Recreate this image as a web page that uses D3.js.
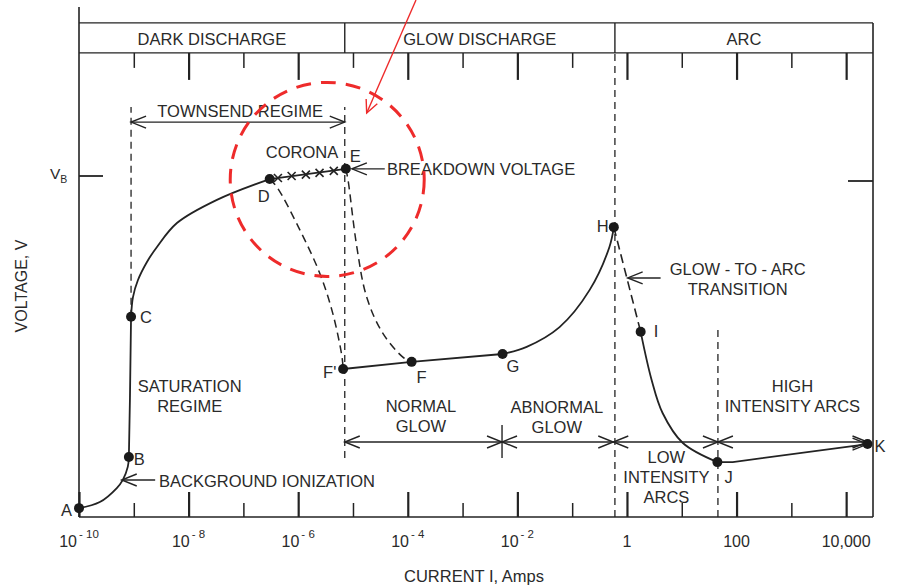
<!DOCTYPE html>
<html>
<head>
<meta charset="utf-8">
<script src="https://cdn.jsdelivr.net/npm/d3@7"></script>
<style>
  html, body { margin: 0; padding: 0; background: #fff; }
  svg text { font-family: "Liberation Sans", Arial, sans-serif; fill: #2a2a2a; }
</style>
</head>
<body>
<svg id="chart" width="902" height="586"></svg>
<script>
// ---------------- DATA (current as log10 I in amps, voltage relative to V_B) ----------------
const regionNames = ["DARK DISCHARGE", "GLOW DISCHARGE", "ARC"];
const regionBounds = [-10, -5.15, -0.22, 4.49];

const majorTickExp = [-10, -8, -6, -4, -2, 0, 2, 4];
const minorTickExp = [-9, -7, -5, -3, -1, 1, 3];
const tickBase = ["10", "10", "10", "10", "10", "1", "100", "10,000"];
const tickSup = ["- 10", "- 8", "- 6", "- 4", "- 2", "", "", ""];

const pointLabels = ["A", "B", "C", "D", "E", "F'", "F", "G", "H", "I", "J", "K"];
const pointExp = [-10, -9.09, -9.05, -6.52, -5.13, -5.18, -3.93, -2.27, -0.24, 0.25, 1.65, 4.39];
const pointVolt = [0.026, 0.176, 0.587, 0.991, 1.021, 0.434, 0.455, 0.478, 0.850, 0.543, 0.161, 0.214];

// solid characteristic segments
const curveAB = [[-10, 0.026], [-9.62, 0.044], [-9.31, 0.085], [-9.20, 0.109], [-9.11, 0.147], [-9.09, 0.176]];
const curveBC = [[-9.09, 0.176], [-9.07, 0.35], [-9.05, 0.587]];
const curveCD = [[-9.05, 0.587], [-9.015, 0.645], [-8.924, 0.695], [-8.76, 0.748], [-8.577, 0.792], [-8.213, 0.862], [-7.483, 0.930], [-6.52, 0.991]];
const curveDE = [[-6.52, 0.991], [-5.13, 1.021]];
const curveFG = [[-5.18, 0.434], [-3.93, 0.455], [-2.27, 0.478]];
const curveGH = [[-2.27, 0.478], [-1.83, 0.499], [-1.23, 0.557], [-0.68, 0.666], [-0.32, 0.792], [-0.24, 0.850]];
const curveIJ = [[0.25, 0.543], [0.45, 0.402], [0.65, 0.305], [1.02, 0.217], [1.65, 0.161]];
const curveJK = [[1.65, 0.161], [1.93, 0.161], [4.39, 0.214]];
// dashed transitions
const curveDF1 = [[-6.52, 0.991], [-6.39, 0.968], [-5.97, 0.842], [-5.61, 0.716], [-5.37, 0.598], [-5.20, 0.469], [-5.18, 0.434]];
const curveEF = [[-5.13, 1.021], [-5.09, 0.988], [-4.93, 0.792], [-4.75, 0.645], [-4.46, 0.540], [-4.09, 0.469], [-3.93, 0.455]];
const curveHI = [[-0.24, 0.850], [0.25, 0.543]];

// corona crosses between D and E
const crossExp = [-6.37, -6.12, -5.86, -5.61, -5.35];
const crossVolt = [0.994, 1.000, 1.004, 1.009, 1.015];

// vertical dashed guides: [exp, vFrom, vTo]
const guideExp = [-9.05, -5.15, -0.22, 1.66];
const guideFrom = [0.587, 0.173, 0, 0];
const guideTo = [1.202, 1.202, 1.361, 0.563];

// regime span arrows
const townsendSpan = [-9.05, -5.15];
const townsendVolt = 1.158;
const glowSpanBounds = [-5.15, -2.28, -0.25, 1.66, 4.39];
const glowSpanVolt = 0.220;

// text annotations: lines, exp, volt of first baseline, anchor
const annoLines = [["TOWNSEND REGIME"], ["CORONA"], ["SATURATION", "REGIME"], ["BACKGROUND IONIZATION"],
  ["BREAKDOWN VOLTAGE"], ["NORMAL", "GLOW"], ["ABNORMAL", "GLOW"], ["LOW", "INTENSITY", "ARCS"],
  ["HIGH", "INTENSITY ARCS"], ["GLOW - TO - ARC", "TRANSITION"]];
const annoExp = [-7.06, -5.93, -7.98, -8.54, -4.38, -3.76, -1.28, 0.72, 3.02, 2.02];
const annoVolt = [1.173, 1.053, 0.367, 0.088, 1.003, 0.308, 0.305, 0.158, 0.367, 0.710];
const annoAnchor = ["middle", "middle", "middle", "start", "start", "middle", "middle", "middle", "middle", "middle"];

// pointer arrows: tip (exp, volt) and tail (exp, volt)
const pointerTip = [[-9.22, 0.1085], [-5.02, 1.021], [0.013, 0.701]];
const pointerTail = [[-8.61, 0.1085], [-4.42, 1.021], [0.614, 0.701]];

// red annotation (circle centre and arrow)
const redCircleCentre = [-5.47, 0.990];
const redArrowTail = [-3.85, 1.516];
const redArrowTip = [-4.75, 1.185];

// ---------------- STYLE ----------------
const INK = "#232323";
const RED = "#ee2b2b";
const FS = 16.5;
const labelOffset = [[-18, 8], [5, 8], [9, 6], [-12, 23], [4, -7], [-20, 9], [5, 21], [4, 18], [-17, 5], [13, 5], [7, 21], [7, 8]];

// ---------------- SCALES ----------------
const svg = d3.select("#chart");
const x = d3.scaleLog().domain([1e-10, Math.pow(10, 4.49)]).range([79, 873]);
const y = d3.scaleLinear().domain([0, 1]).range([517, 176]);
const X = e => x(Math.pow(10, e));

const smooth = d3.line().x(d => X(d[0])).y(d => y(d[1])).curve(d3.curveCatmullRom.alpha(0.5));
const straight = d3.line().x(d => X(d[0])).y(d => y(d[1]));

const yTop = y(1.449);   // header top
const yHead = y(1.361);  // header bottom
const yBase = y(0);

// ---------------- FRAME ----------------
const frame = svg.append("g").attr("stroke", INK).attr("fill", "none");
frame.append("line").attr("x1", X(-10)).attr("x2", X(-10)).attr("y1", 7).attr("y2", yBase).attr("stroke-width", 1.6);
frame.append("line").attr("x1", x.range()[1]).attr("x2", x.range()[1]).attr("y1", yTop).attr("y2", yBase).attr("stroke-width", 1.6);
frame.append("line").attr("x1", X(-10)).attr("x2", x.range()[1]).attr("y1", yTop).attr("y2", yTop).attr("stroke-width", 1.4);
frame.append("line").attr("x1", X(-10)).attr("x2", x.range()[1]).attr("y1", yHead).attr("y2", yHead).attr("stroke-width", 1.4);
regionBounds.slice(1, -1).forEach(b => {
  frame.append("line").attr("x1", X(b)).attr("x2", X(b)).attr("y1", yTop).attr("y2", yHead).attr("stroke-width", 1.4);
});
regionNames.forEach((n, i) => {
  svg.append("text").attr("x", (X(regionBounds[i]) + X(regionBounds[i + 1])) / 2).attr("y", yHead - 8)
    .attr("text-anchor", "middle").attr("font-size", FS).text(n);
});

// V_B ticks
frame.append("line").attr("x1", X(-10)).attr("x2", X(-10) + 24).attr("y1", y(1)).attr("y2", y(1)).attr("stroke-width", 1.8);
frame.append("line").attr("x1", x.range()[1] - 25).attr("x2", x.range()[1]).attr("y1", y(1) + 5).attr("y2", y(1) + 5).attr("stroke-width", 1.8);
const vb = svg.append("text").attr("x", 50).attr("y", y(1) + 3).attr("font-size", 15.5);
vb.append("tspan").text("V");
vb.append("tspan").attr("font-size", 10.5).attr("dy", 4).text("B");

// ---------------- AXES (ticks via d3.axis) ----------------
function styleAxis(g, w) {
  g.select(".domain").remove();
  g.selectAll(".tick line").attr("stroke", INK).attr("stroke-width", w);
  g.selectAll(".tick text").remove();
}
const bottomMajor = svg.append("g").attr("transform", `translate(0,${yBase})`)
  .call(d3.axisBottom(x).tickValues(majorTickExp.map(e => Math.pow(10, e))).tickSize(-25).tickFormat(""));
styleAxis(bottomMajor, 2.2);
const bottomMinor = svg.append("g").attr("transform", `translate(0,${yBase})`)
  .call(d3.axisBottom(x).tickValues(minorTickExp.map(e => Math.pow(10, e))).tickSize(-14).tickFormat(""));
styleAxis(bottomMinor, 1.5);
const topMajor = svg.append("g").attr("transform", `translate(0,${yHead})`)
  .call(d3.axisBottom(x).tickValues(majorTickExp.slice(1).map(e => Math.pow(10, e))).tickSize(27).tickFormat(""));
styleAxis(topMajor, 2.2);
const topMinor = svg.append("g").attr("transform", `translate(0,${yHead})`)
  .call(d3.axisBottom(x).tickValues(minorTickExp.map(e => Math.pow(10, e))).tickSize(15).tickFormat(""));
styleAxis(topMinor, 1.5);
frame.append("line").attr("x1", X(-10)).attr("x2", x.range()[1]).attr("y1", yBase).attr("y2", yBase).attr("stroke-width", 1.6);

majorTickExp.forEach((e, i) => {
  const t = svg.append("text").attr("x", X(e)).attr("y", 547)
    .attr("text-anchor", "middle").attr("font-size", 16);
  t.append("tspan").text(tickBase[i]);
  if (tickSup[i]) t.append("tspan").attr("font-size", 11.5).attr("dy", -9).attr("dx", 2).text(tickSup[i]);
});

svg.append("text").attr("x", 474).attr("y", 582).attr("text-anchor", "middle").attr("font-size", FS).text("CURRENT I, Amps");
svg.append("text").attr("transform", "translate(27,286) rotate(-90)").attr("text-anchor", "middle")
  .attr("font-size", 16).text("VOLTAGE, V");

// ---------------- GUIDES ----------------
guideExp.forEach((e, i) => {
  svg.append("line").attr("x1", X(e)).attr("x2", X(e)).attr("y1", y(guideFrom[i])).attr("y2", y(guideTo[i]))
    .attr("stroke", INK).attr("stroke-width", 1.3).attr("stroke-dasharray", "7,5");
});

// ---------------- ARROWS ----------------
function head(g, tx, ty, dir) {
  g.append("path").attr("d", `M${tx - dir * 15},${ty - 6}L${tx},${ty}L${tx - dir * 15},${ty + 6}`)
    .attr("fill", "none").attr("stroke", INK).attr("stroke-width", 1.4);
}
function doubleArrow(e0, e1, v) {
  const g = svg.append("g");
  g.append("line").attr("x1", X(e0)).attr("x2", X(e1)).attr("y1", y(v)).attr("y2", y(v))
    .attr("stroke", INK).attr("stroke-width", 1.4);
  head(g, X(e0), y(v), -1);
  head(g, X(e1), y(v), 1);
}
doubleArrow(townsendSpan[0], townsendSpan[1], townsendVolt);
for (let i = 0; i < glowSpanBounds.length - 1; i++) doubleArrow(glowSpanBounds[i], glowSpanBounds[i + 1], glowSpanVolt);
svg.append("line").attr("x1", X(glowSpanBounds[1])).attr("x2", X(glowSpanBounds[1]))
  .attr("y1", y(glowSpanVolt) - 17).attr("y2", y(glowSpanVolt) + 16).attr("stroke", INK).attr("stroke-width", 1.4);

pointerTip.forEach((tip, i) => {
  const g = svg.append("g");
  g.append("line").attr("x1", X(tip[0])).attr("x2", X(pointerTail[i][0])).attr("y1", y(tip[1])).attr("y2", y(pointerTail[i][1]))
    .attr("stroke", INK).attr("stroke-width", 1.4);
  head(g, X(tip[0]), y(tip[1]), -1);
});

// ---------------- CURVES ----------------
[curveAB, curveCD, curveGH, curveIJ].forEach(c => {
  svg.append("path").attr("d", smooth(c)).attr("fill", "none").attr("stroke", INK).attr("stroke-width", 1.8);
});
[curveBC, curveDE, curveFG, curveJK].forEach(c => {
  svg.append("path").attr("d", straight(c)).attr("fill", "none").attr("stroke", INK).attr("stroke-width", 1.8);
});
[curveDF1, curveEF].forEach(c => {
  svg.append("path").attr("d", smooth(c)).attr("fill", "none").attr("stroke", INK).attr("stroke-width", 1.5)
    .attr("stroke-dasharray", "8,5");
});
svg.append("path").attr("d", straight(curveHI)).attr("fill", "none").attr("stroke", INK).attr("stroke-width", 1.6)
  .attr("stroke-dasharray", "9,5");
head(svg.append("g"), X(pointExp[11]), y(pointVolt[11]), 1);

crossExp.forEach((e, i) => {
  const cx = X(e), cy = y(crossVolt[i]);
  svg.append("path").attr("d", `M${cx - 4},${cy - 4}L${cx + 4},${cy + 4}M${cx - 4},${cy + 4}L${cx + 4},${cy - 4}`)
    .attr("stroke", INK).attr("stroke-width", 1.6);
});

// ---------------- POINTS ----------------
pointLabels.forEach((lab, i) => {
  const px = X(pointExp[i]), py = y(pointVolt[i]);
  svg.append("circle").attr("cx", px).attr("cy", py).attr("r", 5).attr("fill", "#1a1a1a");
  svg.append("text").attr("x", px + labelOffset[i][0]).attr("y", py + labelOffset[i][1]).attr("font-size", FS).text(lab);
});

// ---------------- ANNOTATION TEXT ----------------
annoLines.forEach((lines, i) => {
  lines.forEach((ln, j) => {
    svg.append("text").attr("x", X(annoExp[i])).attr("y", y(annoVolt[i]) + j * 20)
      .attr("text-anchor", annoAnchor[i]).attr("font-size", FS).text(ln);
  });
});

// ---------------- RED ANNOTATION ----------------
svg.append("circle").attr("cx", X(redCircleCentre[0])).attr("cy", y(redCircleCentre[1])).attr("r", 97)
  .attr("fill", "none").attr("stroke", RED).attr("stroke-width", 3).attr("stroke-dasharray", "15,10");
{
  const x0 = X(redArrowTail[0]), y0 = y(redArrowTail[1]), x1 = X(redArrowTip[0]), y1 = y(redArrowTip[1]);
  svg.append("line").attr("x1", x0).attr("y1", y0).attr("x2", x1).attr("y2", y1).attr("stroke", RED).attr("stroke-width", 1.4);
  const a = Math.atan2(y1 - y0, x1 - x0), L = 14, s = 0.45;
  svg.append("path").attr("d", `M${x1 - L * Math.cos(a - s)},${y1 - L * Math.sin(a - s)}L${x1},${y1}L${x1 - L * Math.cos(a + s)},${y1 - L * Math.sin(a + s)}`)
    .attr("fill", "none").attr("stroke", RED).attr("stroke-width", 1.4);
}
</script>
</body>
</html>
